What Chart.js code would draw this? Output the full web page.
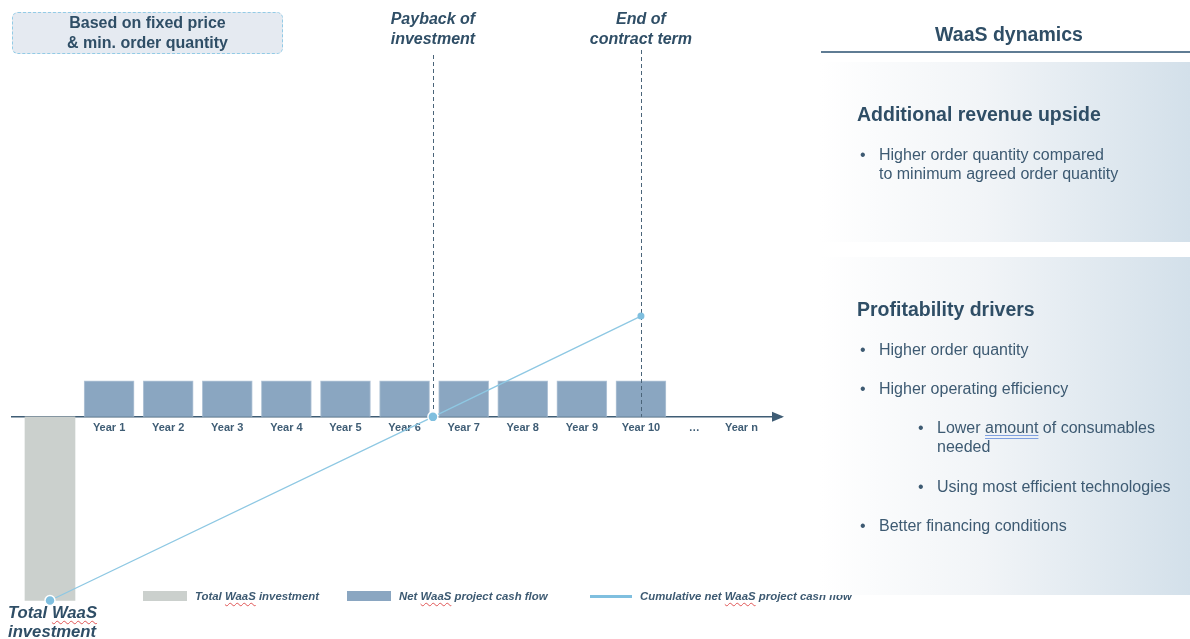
<!DOCTYPE html>
<html>
<head>
<meta charset="utf-8">
<script src="https://cdn.jsdelivr.net/npm/chart.js@4.4.1/dist/chart.umd.min.js"></script>
<style>
  html, body { margin: 0; padding: 0; background: #fff; }
  body {
    width: 1190px; height: 639px; position: relative; overflow: hidden;
    font-family: "Liberation Sans", Arial, sans-serif; color: #3d5a72;
  }
  #grafico { position: absolute; left: 0; top: 0; }
  .abs { position: absolute; white-space: nowrap; }
  .spell { text-decoration: underline wavy #e05555; text-decoration-thickness: 1px; text-underline-offset: 2px; }
  .grammar { text-decoration: underline double #7f9fe0; text-underline-offset: 2px; }

  #nota {
    left: 12px; top: 12px; width: 269px; height: 40px;
    border: 1px dashed #92cbe6; border-radius: 6px; background: #e5eaf1;
    color: #2f4e66; font-weight: bold; font-size: 16px; line-height: 20px; text-align: center;
  }
  #rotuloInvest {
    left: 8px; top: 603px; color: #2f4e66; font-weight: bold; font-style: italic;
    font-size: 16.7px; line-height: 19px;
  }
  .leg { top: 589px; font-size: 11.4px; font-weight: bold; font-style: italic; color: #3d5a72; line-height: 14px; }
  .legBox { position: absolute; }

  #tituloDir { left: 821px; top: 23px; width: 376px; text-align: center; font-weight: bold; font-size: 19.5px; line-height: 22px; color: #2f4e66; }
  #linhaDir { left: 821px; top: 51px; width: 369px; height: 2px; background: #5f7c94; }
  .painel { left: 820px; width: 370px; background: linear-gradient(to right, #ffffff 0%, #f1f4f7 45%, #d3e0ea 100%); }
  .tit { font-weight: bold; font-size: 19.5px; line-height: 22px; color: #2f4e66; }
  .txt { font-size: 16px; line-height: 19px; color: #3d5a72; }
</style>
</head>
<body>
<canvas id="grafico" width="1190" height="639"></canvas>

<div id="nota" class="abs">Based on fixed price<br>&amp; min. order quantity</div>
<div id="rotuloInvest" class="abs">Total <span class="spell">WaaS</span><br>investment</div>
<div id="legenda"></div>

<div id="tituloDir" class="abs">WaaS dynamics</div>
<div id="linhaDir" class="abs"></div>
<div class="abs painel" style="top:62px;height:180px;"></div>
<div class="abs painel" style="top:257px;height:338px;"></div>

<div class="abs tit" style="left:857px;top:103px;">Additional revenue upside</div>
<div class="abs txt" style="left:860px;top:145px;">•</div>
<div class="abs txt" style="left:879px;top:145px;">Higher order quantity compared<br>to minimum agreed order quantity</div>

<div class="abs tit" style="left:857px;top:298px;">Profitability drivers</div>
<div class="abs txt" style="left:860px;top:340px;">•</div>
<div class="abs txt" style="left:879px;top:340px;">Higher order quantity</div>
<div class="abs txt" style="left:860px;top:379px;">•</div>
<div class="abs txt" style="left:879px;top:379px;">Higher operating efficiency</div>
<div class="abs txt" style="left:918px;top:418px;">•</div>
<div class="abs txt" style="left:937px;top:418px;">Lower <span class="grammar">amount</span> of consumables<br>needed</div>
<div class="abs txt" style="left:918px;top:477px;">•</div>
<div class="abs txt" style="left:937px;top:477px;">Using most efficient technologies</div>
<div class="abs txt" style="left:860px;top:516px;">•</div>
<div class="abs txt" style="left:879px;top:516px;">Better financing conditions</div>

<script>
// dados do gráfico
const rotulosAnos = ["Year 1", "Year 2", "Year 3", "Year 4", "Year 5", "Year 6", "Year 7", "Year 8", "Year 9", "Year 10", "…", "Year n"];
const posicoesAnos = [1, 2, 3, 4, 5, 6, 7, 8, 9, 10, 10.9, 11.7];

const investimentoX = [0];
const investimentoValores = [-5.1];

const fluxoX = [1, 2, 3, 4, 5, 6, 7, 8, 9, 10];
const fluxoValores = [1, 1, 1, 1, 1, 1, 1, 1, 1, 1];

const acumuladoX = [0, 6.48, 10];
const acumuladoValores = [-5.1, 0, 2.8];

const marcosX = [6.48, 10];
const marcosTexto = [["Payback of", "investment"], ["End of", "contract term"]];

const nomesSeries = ["Total WaaS investment", "Net WaaS project cash flow", "Cumulative net WaaS project cash flow"];

const corEixo = "#3f5d75";
const fonte = "'Liberation Sans', Arial, sans-serif";
Chart.defaults.font.family = fonte;

const juntar = (xs, ys) => xs.map((x, i) => ({ x: x, y: ys[i] }));

// linhas tracejadas, textos dos marcos e seta do eixo
const pluginMarcos = {
  id: "marcos",
  beforeDatasetDraw(chart, args) {
    if (args.index !== 2) return;
    const { ctx, scales: { x, y } } = chart;
    const y0 = y.getPixelForValue(0);
    const topos = [55, 50];
    ctx.save();
    ctx.strokeStyle = "#4a6479";
    ctx.lineWidth = 1;
    ctx.setLineDash([4, 3]);
    marcosX.forEach((v, i) => {
      const px = Math.round(x.getPixelForValue(v)) + 0.5;
      ctx.beginPath();
      ctx.moveTo(px, topos[i]);
      ctx.lineTo(px, y0);
      ctx.stroke();
    });
    ctx.restore();
  },
  afterDraw(chart) {
    const { ctx, scales: { x, y } } = chart;
    const y0 = y.getPixelForValue(0);
    ctx.save();
    ctx.fillStyle = "#2f4e66";
    ctx.font = "italic bold 16px " + fonte;
    ctx.textAlign = "center";
    ctx.textBaseline = "middle";
    marcosX.forEach((v, i) => {
      const px = x.getPixelForValue(v);
      marcosTexto[i].forEach((t, j) => ctx.fillText(t, px, 20 + j * 20));
    });
    // seta
    ctx.fillStyle = corEixo;
    ctx.beginPath();
    ctx.moveTo(x.right + 3, y0);
    ctx.lineTo(x.right - 9, y0 - 5);
    ctx.lineTo(x.right - 9, y0 + 5);
    ctx.closePath();
    ctx.fill();
    ctx.restore();
  }
};

const grafico = new Chart(document.getElementById("grafico"), {
  data: {
    datasets: [
      {
        type: "bar",
        label: nomesSeries[0],
        data: juntar(investimentoX, investimentoValores),
        backgroundColor: "#cbd0cd",
        barThickness: 50,
        grouped: false,
        order: 2
      },
      {
        type: "bar",
        label: nomesSeries[1],
        data: juntar(fluxoX, fluxoValores),
        backgroundColor: "#8aa6c1",
        borderColor: "#b4c6d8",
        borderWidth: 1,
        barThickness: 50,
        grouped: false,
        order: 1
      },
      {
        type: "line",
        label: nomesSeries[2],
        data: juntar(acumuladoX, acumuladoValores),
        borderColor: "#8ec8e3",
        borderWidth: 1.3,
        pointRadius: [5, 5, 3.5],
        pointBackgroundColor: "#7fbfdf",
        pointBorderColor: ["#ffffff", "#ffffff", "#7fbfdf"],
        pointBorderWidth: [1.5, 1.5, 0],
        order: 0
      }
    ]
  },
  options: {
    responsive: false,
    devicePixelRatio: 1,
    animation: false,
    layout: { padding: { left: 12, right: 409, top: 0, bottom: 0 } },
    plugins: {
      legend: { display: false },
      tooltip: { enabled: false }
    },
    scales: {
      x: {
        type: "linear",
        offset: false,
        min: -0.643,
        max: 12.37,
        position: { y: 0 },
        grid: { display: false, drawTicks: false },
        border: { display: true, color: corEixo, width: 1.5 },
        afterBuildTicks: s => { s.ticks = posicoesAnos.map(v => ({ value: v })); },
        ticks: {
          autoSkip: false,
          maxRotation: 0,
          padding: 4,
          color: corEixo,
          font: { size: 11, weight: "bold" },
          callback: (v, i) => rotulosAnos[i]
        }
      },
      y: {
        display: false,
        min: -5.99,
        max: 11.4
      }
    }
  },
  plugins: [pluginMarcos]
});

// legenda em HTML, a partir dos datasets
const legenda = document.getElementById("legenda");
const esquerdas = [143, 347, 590];
grafico.data.datasets.forEach((ds, i) => {
  const linha = ds.type === "line";
  const caixa = linha
    ? `<div class="legBox" style="left:${esquerdas[i]}px;top:595px;width:42px;height:3px;background:#7fbfdf;"></div>`
    : `<div class="legBox" style="left:${esquerdas[i]}px;top:591px;width:44px;height:10px;background:${ds.backgroundColor};"></div>`;
  const texto = ds.label.replace("WaaS", '<span class="spell">WaaS</span>');
  legenda.insertAdjacentHTML("beforeend",
    caixa + `<div class="abs leg" style="left:${esquerdas[i] + (linha ? 50 : 52)}px;">${texto}</div>`);
});
</script>
</body>
</html>
